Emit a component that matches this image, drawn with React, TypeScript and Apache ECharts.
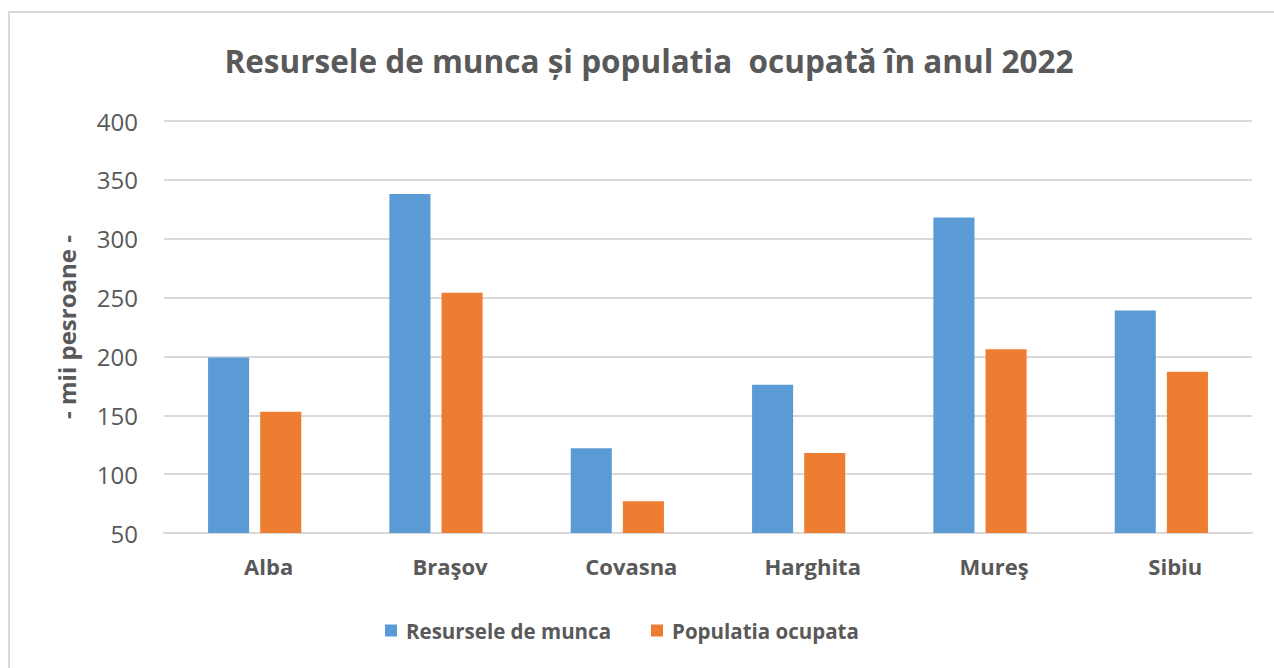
import React, { useEffect, useRef } from "react";
import * as echarts from "echarts";

const categories = ["Alba", "Braşov", "Covasna", "Harghita", "Mureş", "Sibiu"];
const resurse = [199, 338, 122, 176, 318, 239];
const populatie = [153, 254, 77, 118, 206, 187];
const seriesNames = ["Resursele de munca", "Populatia ocupata"];
const titleText = "Resursele de munca și populatia  ocupată în anul 2022";
const yAxisName = "- mii pesroane -";

const FONT = "'Open Sans', Lato, 'Liberation Sans', sans-serif";

export default function App() {
  const ref = useRef<HTMLDivElement>(null);
  useEffect(() => {
    if (!ref.current) return;
    const chart = echarts.init(ref.current, null, { renderer: "svg" });
    chart.setOption({
      animation: false,
      backgroundColor: "#ffffff",
      textStyle: { fontFamily: FONT },
      graphic: [
        {
          type: "rect",
          shape: { x: 9, y: 12, width: 1300, height: 700 },
          style: { fill: "none", stroke: "#D9D9D9", lineWidth: 2 },
          silent: true,
        },
      ],
      title: {
        text: titleText,
        left: 644,
        textAlign: "center",
        top: 39,
        textStyle: { fontFamily: FONT, fontSize: 31.5, fontWeight: "bold", color: "#595959" },
      },
      legend: {
        top: 615,
        left: 380,
        itemWidth: 12,
        itemHeight: 12,
        itemGap: 40,
        icon: "rect",
        textStyle: {
          fontFamily: FONT,
          fontSize: 20.5,
          fontWeight: "bold",
          color: "#595959",
          padding: [0, 0, 0, 4],
        },
        data: seriesNames,
      },
      grid: { left: 164, right: 22, top: 121, bottom: 135, containLabel: false },
      xAxis: {
        type: "category",
        data: categories,
        axisLine: { lineStyle: { color: "#D9D9D9", width: 2 } },
        axisTick: { show: false },
        axisLabel: {
          fontFamily: FONT,
          fontSize: 22,
          fontWeight: "bold",
          color: "#595959",
          margin: 22,
          padding: [0, 0, 0, 28],
        },
      },
      yAxis: {
        type: "value",
        min: 50,
        max: 400,
        interval: 50,
        name: yAxisName,
        nameLocation: "middle",
        nameGap: 86,
        nameRotate: 90,
        nameTextStyle: { fontFamily: FONT, fontSize: 24, fontWeight: "bold", color: "#595959" },
        axisLine: { show: false },
        axisTick: { show: false },
        axisLabel: { fontFamily: FONT, fontSize: 24, color: "#595959", margin: 26 },
        splitLine: { lineStyle: { color: "#D9D9D9", width: 2 } },
      },
      series: [
        {
          name: seriesNames[0],
          type: "bar",
          data: resurse,
          barGap: "27%",
          barCategoryGap: "48.6%",
          itemStyle: { color: "#5B9BD5" },
        },
        {
          name: seriesNames[1],
          type: "bar",
          data: populatie,
          itemStyle: { color: "#ED7D31" },
        },
      ],
    });
    return () => chart.dispose();
  }, []);
  return (
    <div
      ref={ref}
      style={{ position: "fixed", left: 0, top: 0, width: 1274, height: 668, background: "#fff" }}
    />
  );
}
